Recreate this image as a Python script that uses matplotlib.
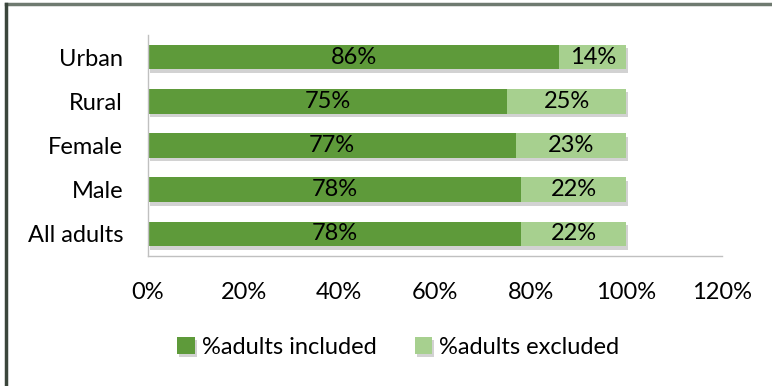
import matplotlib
matplotlib.use('Agg')
import matplotlib.pyplot as plt
import matplotlib.patheffects as pe
from matplotlib.lines import Line2D

# data (bottom to top)
categories = ["All adults", "Male", "Female", "Rural", "Urban"]
included = [78, 78, 77, 75, 86]
excluded = [22, 22, 23, 25, 14]
xticks = [0, 20, 40, 60, 80, 100, 120]

dark = "#5e9a3a"
light = "#a7d08f"
fs = 17

plt.rcParams['font.family'] = ['Lato', 'DejaVu Sans']

fig = plt.figure(figsize=(7.72, 3.86), dpi=100)
ax = fig.add_axes([148/772, 1-256/386, 574/772, 221/386])

shadow = [pe.SimplePatchShadow(offset=(1.5, -2.5), shadow_rgbFace="#808080", alpha=0.35), pe.Normal()]
y = range(len(categories))
b1 = ax.barh(y, included, height=0.56, color=dark, label="%adults included", path_effects=shadow)
b2 = ax.barh(y, excluded, left=included, height=0.56, color=light, label="%adults excluded", path_effects=shadow)

for i in y:
    ax.text(included[i]/2, i, f"{included[i]}%", ha="center", va="center", fontsize=fs)
    ax.text(included[i] + excluded[i]/2, i, f"{excluded[i]}%", ha="center", va="center", fontsize=fs)

ax.set_xlim(0, 120)
ax.set_ylim(-0.5, 4.5)
ax.set_yticks(list(y))
ax.set_yticklabels(categories, fontsize=fs)
ax.set_xticks(xticks)
ax.set_xticklabels([f"{t}%" for t in xticks], fontsize=fs)
ax.tick_params(axis="both", length=0)
ax.tick_params(axis="x", pad=19)
ax.tick_params(axis="y", pad=18)
for s in ["top", "right"]:
    ax.spines[s].set_visible(False)
for s in ["left", "bottom"]:
    ax.spines[s].set_color("#c0c0c0")
    ax.spines[s].set_linewidth(1)

fig.legend(handles=[b1, b2], loc="center", bbox_to_anchor=(0.516, 0.101), ncol=2,
           frameon=False, fontsize=fs, handlelength=0.75, handleheight=0.75,
           handletextpad=0.3, columnspacing=1.6)

# chart border
fig.add_artist(Line2D([6/772, 1], [1-4/386, 1-4/386], color="#6f7a70", lw=2.5))
fig.add_artist(Line2D([6/772, 6/772], [0, 1-4/386], color="#3b463c", lw=2.5))

fig.savefig("out.png", dpi=100)
